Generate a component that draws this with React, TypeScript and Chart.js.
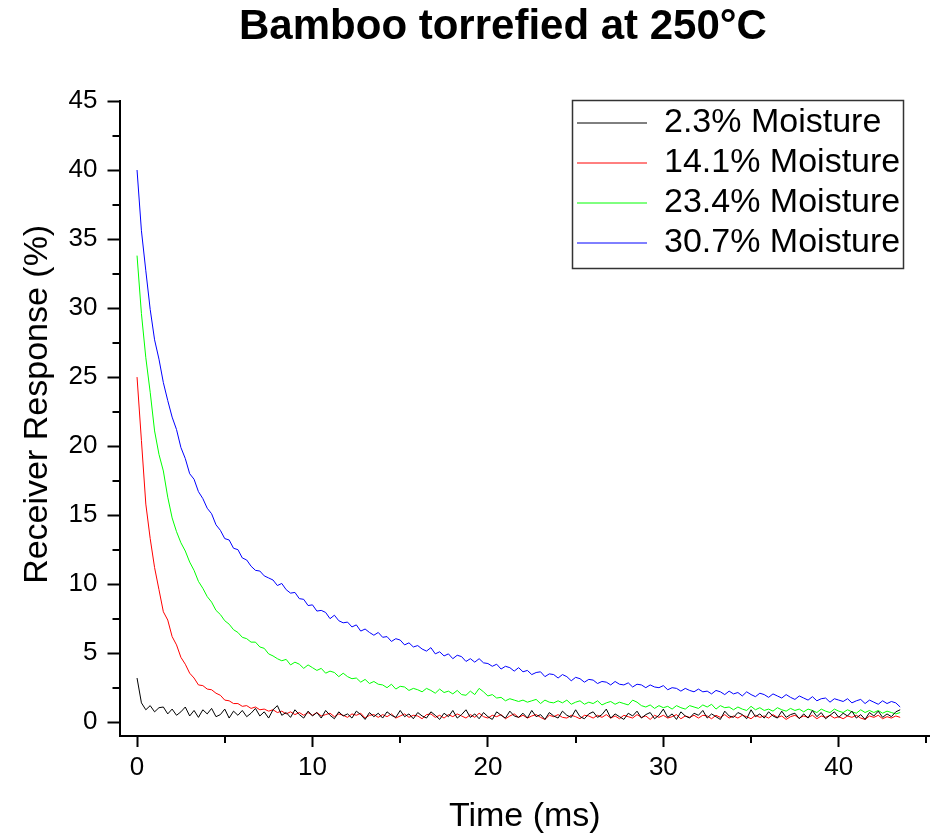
import React, { useEffect, useRef } from 'react';
import { Chart, registerables } from 'chart.js';

Chart.register(...registerables);

// Time axis (ms)
const TIME = [
  0, 0.25, 0.5, 0.75, 1, 1.25, 1.5, 1.75,
  2, 2.25, 2.5, 2.75, 3, 3.25, 3.5, 3.75,
  4, 4.25, 4.5, 4.75, 5, 5.25, 5.5, 5.75,
  6, 6.25, 6.5, 6.75, 7, 7.25, 7.5, 7.75,
  8, 8.25, 8.5, 8.75, 9, 9.25, 9.5, 9.75,
  10, 10.25, 10.5, 10.75, 11, 11.25, 11.5, 11.75,
  12, 12.25, 12.5, 12.75, 13, 13.25, 13.5, 13.75,
  14, 14.25, 14.5, 14.75, 15, 15.25, 15.5, 15.75,
  16, 16.25, 16.5, 16.75, 17, 17.25, 17.5, 17.75,
  18, 18.25, 18.5, 18.75, 19, 19.25, 19.5, 19.75,
  20, 20.25, 20.5, 20.75, 21, 21.25, 21.5, 21.75,
  22, 22.25, 22.5, 22.75, 23, 23.25, 23.5, 23.75,
  24, 24.25, 24.5, 24.75, 25, 25.25, 25.5, 25.75,
  26, 26.25, 26.5, 26.75, 27, 27.25, 27.5, 27.75,
  28, 28.25, 28.5, 28.75, 29, 29.25, 29.5, 29.75,
  30, 30.25, 30.5, 30.75, 31, 31.25, 31.5, 31.75,
  32, 32.25, 32.5, 32.75, 33, 33.25, 33.5, 33.75,
  34, 34.25, 34.5, 34.75, 35, 35.25, 35.5, 35.75,
  36, 36.25, 36.5, 36.75, 37, 37.25, 37.5, 37.75,
  38, 38.25, 38.5, 38.75, 39, 39.25, 39.5, 39.75,
  40, 40.25, 40.5, 40.75, 41, 41.25, 41.5, 41.75,
  42, 42.25, 42.5, 42.75, 43, 43.25, 43.5,
];

// Receiver response (%) per moisture content
const MOIST_2_3 = [
  3.2, 1.4, 0.9, 1.2, 0.75, 1.05, 1.1, 0.6,
  0.95, 0.5, 0.75, 1.1, 0.45, 0.85, 0.35, 0.9,
  0.6, 1.0, 0.4, 0.55, 0.95, 0.3, 0.8, 0.5,
  0.85, 0.4, 0.65, 1.0, 0.45, 0.75, 0.3, 0.9,
  1.2, 0.5, 0.7, 0.35, 0.9, 0.55, 0.3, 0.8,
  0.45, 0.7, 0.3, 0.85, 0.5, 0.25, 0.75, 0.45,
  0.6, 0.3, 0.8, 0.55, 0.2, 0.7, 0.4, 0.65,
  0.3, 0.75, 0.5, 0.35, 0.85, 0.4, 0.6, 0.25,
  0.7, 0.45, 0.3, 0.75, 0.5, 0.2, 0.65, 0.4,
  0.85, 0.3, 0.55, 0.9, 0.35, 0.6, 0.25, 0.7,
  0.4, 0.2, 0.75, 0.5, 0.3, 0.8, 0.45, 0.35,
  0.65, 0.3, 0.85, 0.4, 0.55, 0.2, 0.7, 0.45,
  0.3, 0.8, 0.5, 0.35, 0.9, 0.4, 0.25, 0.6,
  0.75, 0.35, 0.55, 0.95, 0.3, 0.6, 0.4, 0.2,
  0.65, 0.45, 0.8, 0.3, 0.55, 0.7, 0.25, 0.5,
  0.95, 0.35, 0.6, 0.2, 0.75, 0.45, 0.3, 0.65,
  0.5, 0.85, 0.3, 0.6, 0.4, 0.2, 0.8, 0.45,
  0.35, 0.7, 0.55, 0.25, 0.9, 0.4, 0.6, 0.3,
  0.75, 0.45, 0.3, 0.8, 0.35, 0.55, 0.65, 0.25,
  0.6, 0.3, 0.85, 0.4, 0.7, 0.25, 0.5, 0.75,
  0.35, 0.65, 0.45, 0.8, 0.3, 0.55, 0.2, 0.7,
  0.45, 0.8, 0.35, 0.6, 0.4, 0.75, 0.9,
];

const MOIST_14_1 = [
  25.0, 20.4, 15.8, 13.3, 11.2, 9.6, 8.0, 7.4,
  6.2, 5.6, 4.7, 4.2, 3.55, 3.2, 2.7, 2.65,
  2.4, 2.35, 2.1, 1.95, 1.6, 1.55, 1.35, 1.35,
  1.15, 1.2, 1.0, 1.1, 0.9, 0.95, 0.8, 0.9,
  0.7, 0.8, 0.6, 0.75, 0.55, 0.7, 0.5, 0.7,
  0.5, 0.7, 0.45, 0.55, 0.65, 0.4, 0.6, 0.5,
  0.35, 0.6, 0.5, 0.65, 0.3, 0.5, 0.55, 0.35,
  0.55, 0.4, 0.6, 0.3, 0.45, 0.6, 0.35, 0.5,
  0.45, 0.25, 0.55, 0.6, 0.35, 0.5, 0.3, 0.55,
  0.4, 0.6, 0.45, 0.3, 0.55, 0.35, 0.65, 0.4,
  0.3, 0.5, 0.4, 0.55, 0.25, 0.45, 0.6, 0.35,
  0.5, 0.3, 0.45, 0.55, 0.35, 0.2, 0.5, 0.4,
  0.55, 0.35, 0.3, 0.5, 0.4, 0.25, 0.5, 0.45,
  0.3, 0.5, 0.35, 0.55, 0.3, 0.45, 0.25, 0.5,
  0.4, 0.3, 0.55, 0.35, 0.45, 0.2, 0.5, 0.35,
  0.5, 0.3, 0.4, 0.55, 0.25, 0.45, 0.35, 0.5,
  0.3, 0.5, 0.45, 0.25, 0.5, 0.35, 0.55, 0.3,
  0.45, 0.3, 0.5, 0.4, 0.25, 0.5, 0.35, 0.45,
  0.3, 0.55, 0.35, 0.45, 0.2, 0.4, 0.5, 0.3,
  0.45, 0.35, 0.5, 0.25, 0.45, 0.35, 0.5, 0.3,
  0.4, 0.25, 0.45, 0.35, 0.5, 0.3, 0.2, 0.45,
  0.35, 0.5, 0.25, 0.4, 0.3, 0.45, 0.35,
];

const MOIST_23_4 = [
  33.8, 29.6, 26.4, 23.9, 21.1, 19.4, 18.2, 16.3,
  14.8, 13.8, 13.0, 12.4, 11.6, 11.0, 10.2, 9.7,
  9.1, 8.7, 8.1, 7.8, 7.35, 7.1, 6.7, 6.5,
  6.15, 6.05, 5.8, 5.8, 5.45, 5.35, 4.95, 4.8,
  4.6, 4.45, 4.55, 4.15, 4.35, 4.2, 3.9, 4.15,
  3.95, 3.75, 3.9, 3.55, 3.7, 3.6, 3.3, 3.55,
  3.3, 3.15, 3.2, 2.9, 3.1, 2.8, 2.95, 2.75,
  2.7, 2.5, 2.75, 2.4, 2.6, 2.55, 2.3, 2.45,
  2.35, 2.2, 2.45, 2.3, 2.1, 2.4, 2.15, 2.25,
  2.05, 2.3, 2.0, 1.95, 2.25, 2.0, 2.45, 2.2,
  1.9, 2.0, 1.75, 1.8, 1.55, 1.7, 1.6, 1.5,
  1.6, 1.45, 1.55, 1.65, 1.35, 1.6, 1.45, 1.4,
  1.55, 1.4, 1.6, 1.3, 1.45, 1.55, 1.3, 1.45,
  1.35, 1.55, 1.25, 1.4, 1.5, 1.3, 1.45, 1.35,
  1.25, 1.6, 1.45, 1.2, 1.1, 1.25, 1.0, 1.2,
  1.05, 1.15, 0.95, 1.2, 1.05, 0.95, 1.2, 1.1,
  1.0, 1.25, 1.1, 1.3, 0.95, 1.2, 1.05, 1.1,
  0.9, 1.1, 0.95, 0.85, 1.15, 0.9, 1.05, 0.85,
  0.95, 0.8, 1.05, 0.9, 0.8, 1.0, 0.85, 0.95,
  0.75, 0.95, 0.85, 0.7, 0.95, 0.8, 0.7, 0.95,
  0.8, 0.7, 0.9, 0.75, 0.65, 0.9, 0.7, 0.85,
  0.7, 0.85, 0.65, 0.8, 0.7, 0.6, 0.7,
];

const MOIST_30_7 = [
  40.0, 35.6, 32.7, 29.9, 27.7, 26.3, 24.6, 23.3,
  22.1, 21.2, 19.9, 19.1, 18.0, 17.6, 16.7, 16.2,
  15.5, 15.1, 14.3, 13.9, 13.3, 13.2, 12.6, 12.5,
  11.9, 11.75, 11.3, 11.0, 10.95, 10.6, 10.45, 10.3,
  9.9, 10.05, 9.6, 9.35, 9.4, 8.95, 8.9, 8.45,
  8.5, 8.05, 8.1, 7.95, 7.5, 7.75, 7.35, 7.2,
  7.25, 6.9, 7.05, 6.6, 6.75, 6.5, 6.3, 6.5,
  6.15, 6.2, 5.85, 6.05, 5.95, 5.6, 5.75, 5.45,
  5.55, 5.3, 5.15, 5.4, 4.95, 5.1, 4.8, 4.95,
  4.6, 4.85, 4.75, 4.4, 4.6, 4.35, 4.6, 4.3,
  4.25, 4.05, 4.2, 3.85, 4.05, 3.95, 3.7, 3.95,
  3.65, 3.75, 3.45, 3.6, 3.65, 3.3, 3.5, 3.45,
  3.2, 3.45, 3.3, 3.0, 3.25, 3.15, 2.9, 3.1,
  3.05, 2.8, 2.95, 2.9, 2.7, 2.95, 2.75, 2.7,
  2.85, 2.55, 2.75, 2.7, 2.5, 2.7, 2.55, 2.5,
  2.65, 2.35, 2.5, 2.45, 2.25, 2.45, 2.3, 2.2,
  2.4, 2.2, 2.25, 2.05, 2.3, 2.2, 2.0, 2.25,
  2.05, 2.15, 1.9, 2.2, 2.0, 1.85, 2.1, 2.0,
  1.8, 2.05, 1.9, 1.75, 2.0, 1.8, 1.65, 1.9,
  1.75, 1.6, 1.85, 1.55, 1.7, 1.75, 1.45, 1.7,
  1.6, 1.5, 1.7, 1.4, 1.55, 1.65, 1.35, 1.6,
  1.45, 1.3, 1.55, 1.35, 1.5, 1.4, 1.1,
];

const SERIES_LABELS = ['2.3% Moisture', '14.1% Moisture', '23.4% Moisture', '30.7% Moisture'];
const SERIES_VALUES = [MOIST_2_3, MOIST_14_1, MOIST_23_4, MOIST_30_7];
const SERIES_COLORS = ['#000000', '#ff0000', '#00ff00', '#0000ff'];

const X_TICKS = [0, 10, 20, 30, 40];
const X_MINOR = [5, 15, 25, 35, 45];
const Y_TICKS = [0, 5, 10, 15, 20, 25, 30, 35, 40, 45];
const Y_MINOR = [2.5, 7.5, 12.5, 17.5, 22.5, 27.5, 32.5, 37.5, 42.5];

const TITLE = 'Bamboo torrefied at 250°C';
const X_TITLE = 'Time (ms)';
const Y_TITLE = 'Receiver Response (%)';

const FONT = '"Liberation Sans", Arial, Helvetica, sans-serif';

const minorTicksPlugin = {
  id: 'minorTicks',
  afterDraw(chart: any) {
    const { ctx, chartArea: ca } = chart;
    const xs = chart.scales.x;
    const ys = chart.scales.y;
    ctx.save();
    ctx.strokeStyle = '#000';
    ctx.lineWidth = 2;
    ctx.beginPath();
    for (const v of Y_MINOR) {
      const py = Math.round(ys.getPixelForValue(v));
      ctx.moveTo(ca.left - 7, py);
      ctx.lineTo(ca.left, py);
    }
    for (const v of X_MINOR) {
      if (v > xs.max) continue;
      const px = Math.round(xs.getPixelForValue(v));
      ctx.moveTo(px, ca.bottom);
      ctx.lineTo(px, ca.bottom + 7);
    }
    ctx.stroke();
    ctx.restore();
  },
};

const legendPlacePlugin = {
  id: 'legendPlace',
  beforeDraw(chart: any) {
    const lg = chart.legend;
    if (!lg) return;
    const ca = chart.chartArea;
    const w = 331;
    const h = 168;
    lg.left = ca.right - 359;
    lg.top = ca.top - 1;
    lg.width = w;
    lg.height = h;
    lg.right = lg.left + w;
    lg.bottom = lg.top + h;
  },
  afterDraw(chart: any) {
    const lg = chart.legend;
    if (!lg) return;
    const { ctx } = chart;
    ctx.save();
    ctx.strokeStyle = '#333';
    ctx.lineWidth = 1.5;
    ctx.strokeRect(Math.round(lg.left) + 1.5, Math.round(lg.top) + 0.5, lg.width, lg.height);
    ctx.restore();
  },
};

export default function App() {
  const canvasRef = useRef<HTMLCanvasElement | null>(null);

  useEffect(() => {
    const canvas = canvasRef.current;
    if (!canvas) return;
    const datasets = SERIES_LABELS.map((label, i) => ({
      label,
      data: TIME.map((t, j) => ({ x: t, y: SERIES_VALUES[i][j] })),
      borderColor: SERIES_COLORS[i],
      backgroundColor: SERIES_COLORS[i],
      borderWidth: 1,
      pointRadius: 0,
      tension: 0,
      fill: false,
    }));

    const chart = new Chart(canvas, {
      type: 'line',
      data: { datasets },
      plugins: [minorTicksPlugin, legendPlacePlugin],
      options: {
        animation: false,
        responsive: false,
        devicePixelRatio: 1,
        layout: { padding: { top: 101, left: 0, right: 0, bottom: 0 } },
        plugins: {
          tooltip: { enabled: false },
          title: { display: false },
          legend: {
            display: true,
            position: 'chartArea',
            align: 'start',
            labels: {
              usePointStyle: true,
              pointStyle: 'line',
              pointStyleWidth: 70,
              textAlign: 'left',
              color: '#000',
              padding: 6,
              font: { family: FONT, size: 34 },
            },
          },
        },
        scales: {
          x: {
            type: 'linear',
            min: -1,
            max: 45.2,
            afterBuildTicks: (s: any) => {
              s.ticks = X_TICKS.map((v) => ({ value: v }));
            },
            afterFit: (s: any) => {
              s.height = 98;
            },
            border: { display: true, color: '#000', width: 2 },
            grid: { display: true, drawOnChartArea: false, drawTicks: true, tickLength: 11, tickWidth: 2, tickColor: '#000' },
            ticks: { color: '#000', padding: 5, maxRotation: 0, autoSkip: false, font: { family: FONT, size: 26 } },
            title: {
              display: true,
              text: X_TITLE,
              color: '#000',
              font: { family: FONT, size: 34, lineHeight: 1 },
              padding: { top: 0, bottom: 0 },
            },
          },
          y: {
            type: 'linear',
            min: -1,
            max: 45,
            afterBuildTicks: (s: any) => {
              s.ticks = Y_TICKS.map((v) => ({ value: v }));
            },
            afterFit: (s: any) => {
              s.width = 119.5;
            },
            border: { display: true, color: '#000', width: 2 },
            grid: { display: true, drawOnChartArea: false, drawTicks: true, tickLength: 12, tickWidth: 2, tickColor: '#000' },
            ticks: { color: '#000', padding: 10, autoSkip: false, font: { family: FONT, size: 26 } },
            title: {
              display: true,
              text: '   ' + Y_TITLE,
              color: '#000',
              font: { family: FONT, size: 34, lineHeight: 1 },
              padding: { top: 21, bottom: 0 },
            },
          },
        },
      },
    } as any);

    return () => {
      chart.destroy();
    };
  }, []);

  return (
    <div style={{ position: 'absolute', left: 0, top: 0, width: 930, height: 834, background: '#fff', overflow: 'hidden' }}>
      <canvas ref={canvasRef} width={930} height={834} style={{ position: 'absolute', left: 0, top: 0, width: 930, height: 834, display: 'block' }} />
      <div
        style={{
          position: 'absolute',
          left: 0,
          top: 4,
          width: 1006,
          textAlign: 'center',
          fontFamily: FONT,
          fontWeight: 'bold',
          fontSize: 42,
          lineHeight: '42px',
          color: '#000',
          whiteSpace: 'nowrap',
          pointerEvents: 'none',
        }}
      >
        {TITLE}
      </div>
    </div>
  );
}
